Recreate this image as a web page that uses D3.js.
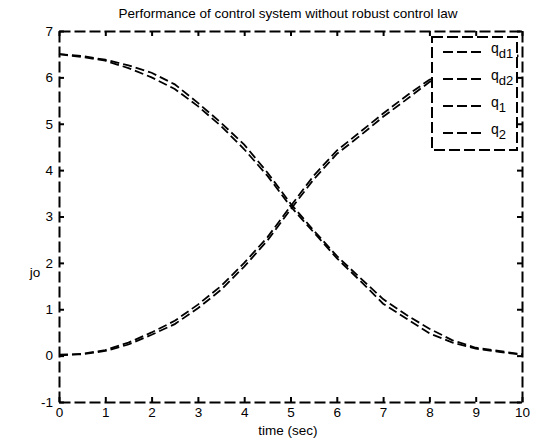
<!DOCTYPE html>
<html>
<head>
<meta charset="utf-8">
<script src="https://cdn.jsdelivr.net/npm/d3@7"></script>
<style>
  body { margin: 0; background: #fff; }
  svg { display: block; font-family: "Liberation Sans", Arial, sans-serif; }
</style>
</head>
<body>
<svg id="chart" width="533" height="439"></svg>
<script>
// Daten
const time = [0, 0.5, 1, 1.5, 2, 2.5, 3, 3.5, 4, 4.5, 5, 5.5, 6, 6.5, 7, 7.5, 8, 8.5, 9, 9.5, 10];
const qd1 = [6.50, 6.46, 6.38, 6.26, 6.10, 5.85, 5.45, 5.02, 4.55, 3.95, 3.28, 2.70, 2.15, 1.68, 1.22, 0.88, 0.58, 0.33, 0.17, 0.10, 0.03];
const qd2 = [0.00, 0.04, 0.12, 0.28, 0.50, 0.75, 1.10, 1.50, 2.00, 2.55, 3.22, 3.88, 4.42, 4.82, 5.22, 5.60, 5.95, 6.15, 6.33, 6.43, 6.48];
const q1 = [6.50, 6.44, 6.36, 6.20, 6.00, 5.75, 5.38, 4.95, 4.45, 3.88, 3.22, 2.66, 2.10, 1.62, 1.12, 0.80, 0.48, 0.28, 0.15, 0.08, 0.02];
const q2 = [0.02, 0.03, 0.10, 0.24, 0.45, 0.68, 1.02, 1.42, 1.92, 2.48, 3.15, 3.80, 4.35, 4.74, 5.15, 5.52, 5.90, 6.12, 6.30, 6.40, 6.47];
const xTicks = [0, 1, 2, 3, 4, 5, 6, 7, 8, 9, 10];
const yTicks = [-1, 0, 1, 2, 3, 4, 5, 6, 7];
const legendNames = [["q", "d1"], ["q", "d2"], ["q", "1"], ["q", "2"]];

const svg = d3.select("#chart");
const plotLeft = 59, plotRight = 522, plotTop = 31, plotBottom = 402;
const fontSize = "13.5px";

const x = d3.scaleLinear().domain([0, 10]).range([plotLeft, plotRight]);
const y = d3.scaleLinear().domain([-1, 7]).range([plotBottom, plotTop]);

const dashAxis = "11,4";
const dashLine = "9,4";

// Achsen
function styleAxis(g, labels) {
    g.select(".domain").attr("stroke", "#000").attr("stroke-width", 2).attr("stroke-dasharray", dashAxis);
    g.selectAll(".tick line").attr("stroke", "#000").attr("stroke-width", 2);
    g.selectAll(".tick text").attr("font-size", fontSize).attr("fill", "#000")
        .attr("font-family", "Liberation Sans, Arial, sans-serif");
    if (!labels) g.selectAll(".tick text").remove();
}
const plain = d => String(d);

svg.append("g").attr("transform", `translate(0,${plotBottom})`)
    .call(d3.axisBottom(x).tickValues(xTicks).tickFormat(plain).tickSize(-5).tickSizeOuter(0).tickPadding(5))
    .call(g => styleAxis(g, true));
svg.append("g").attr("transform", `translate(0,${plotTop})`)
    .call(d3.axisTop(x).tickValues(xTicks).tickSize(-5).tickSizeOuter(0))
    .call(g => styleAxis(g, false));
svg.append("g").attr("transform", `translate(${plotLeft},0)`)
    .call(d3.axisLeft(y).tickValues(yTicks).tickFormat(plain).tickSize(-5).tickSizeOuter(0).tickPadding(6))
    .call(g => styleAxis(g, true));
svg.append("g").attr("transform", `translate(${plotRight},0)`)
    .call(d3.axisRight(y).tickValues(yTicks).tickSize(-5).tickSizeOuter(0))
    .call(g => styleAxis(g, false));

// Kurven
const line = d3.line().x(d => x(d[0])).y(d => y(d[1]));
[qd1, qd2, q1, q2].forEach(series => {
    svg.append("path")
        .datum(time.map((t, i) => [t, series[i]]))
        .attr("d", line)
        .attr("fill", "none")
        .attr("stroke", "#000")
        .attr("stroke-width", 1.8)
        .attr("stroke-dasharray", dashLine);
});

// Titel und Beschriftungen
svg.append("text")
    .attr("x", 288).attr("y", 18)
    .attr("text-anchor", "middle").attr("font-size", fontSize)
    .text("Performance of control system without robust control law");
svg.append("text")
    .attr("x", 288).attr("y", 435)
    .attr("text-anchor", "middle").attr("font-size", fontSize)
    .text("time (sec)");
svg.append("text")
    .attr("x", 35).attr("y", 277)
    .attr("text-anchor", "middle").attr("font-size", fontSize)
    .text("jo");

// Legende
const legend = svg.append("g");
legend.append("rect")
    .attr("x", 432).attr("y", 37).attr("width", 85).attr("height", 113)
    .attr("fill", "#fff").attr("stroke", "#000").attr("stroke-width", 2)
    .attr("stroke-dasharray", dashAxis);
legendNames.forEach((name, i) => {
    const ly = 52 + i * 27;
    legend.append("line")
        .attr("x1", 443).attr("x2", 484).attr("y1", ly).attr("y2", ly)
        .attr("stroke", "#000").attr("stroke-width", 1.8)
        .attr("stroke-dasharray", "10,4");
    const t = legend.append("text").attr("x", 491).attr("y", ly + 1).attr("font-size", "14px");
    t.append("tspan").text(name[0]);
    t.append("tspan").attr("dy", 5).attr("font-size", "13px").text(name[1]);
});
</script>
</body>
</html>
